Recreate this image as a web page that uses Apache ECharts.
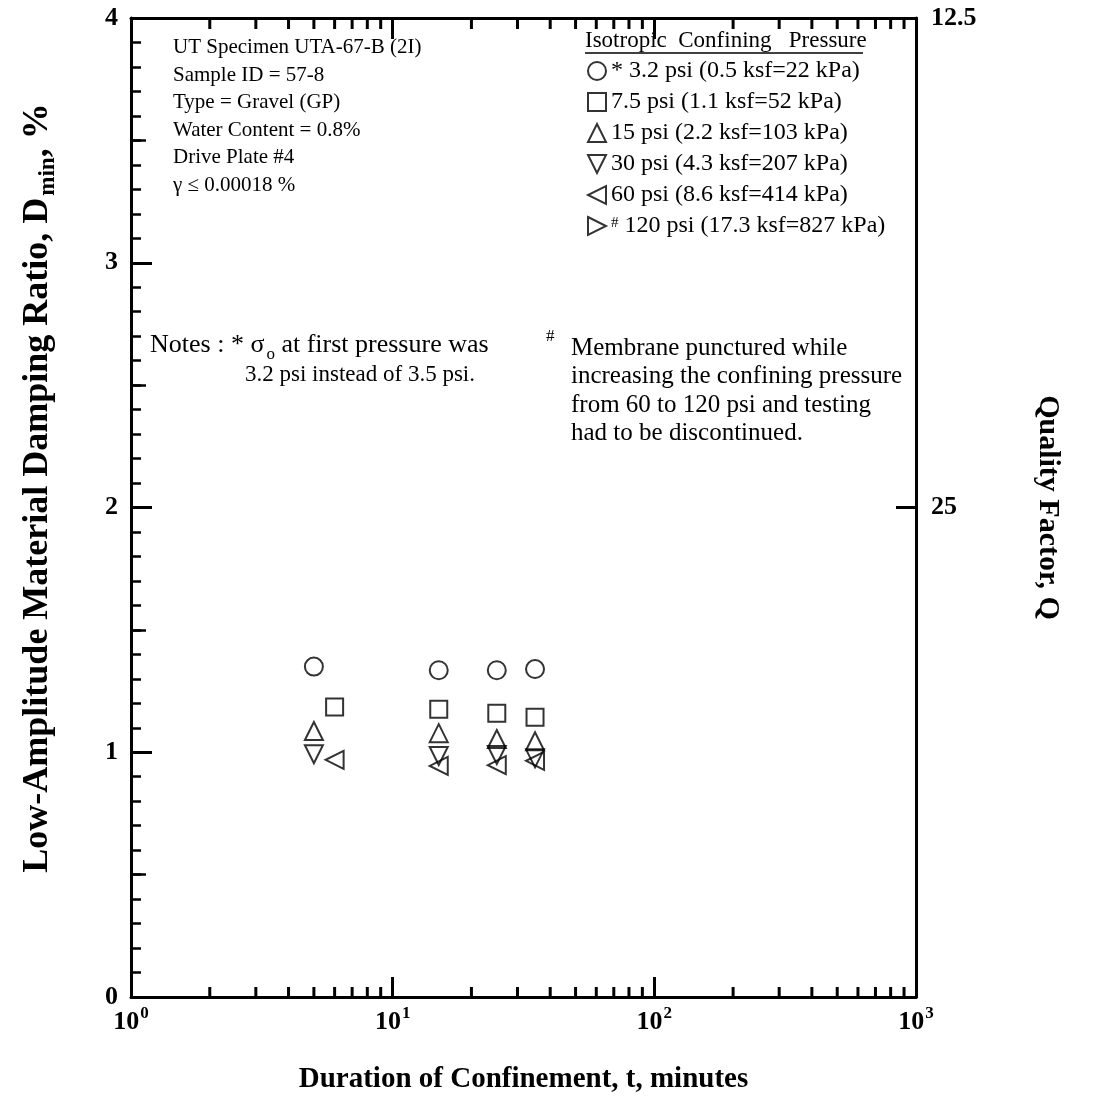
<!DOCTYPE html>
<html>
<head>
<meta charset="utf-8">
<script src="https://cdn.jsdelivr.net/npm/echarts@6/dist/echarts.min.js"></script>
<style>
  html, body { margin: 0; padding: 0; background: #fff; }
  #chart { width: 1116px; height: 1119px; }
</style>
</head>
<body>
<div id="chart"></div>
<script>
// duration of confinement (minutes) and damping ratio (%) per confining pressure
var t_3psi = [5, 15, 25, 35];
var d_3psi = [1.35, 1.335, 1.335, 1.34];
var t_7psi = [6, 15, 25, 35];
var d_7psi = [1.185, 1.176, 1.159, 1.143];
var t_15psi = [5, 15, 25, 35];
var d_15psi = [1.087, 1.078, 1.054, 1.045];
var t_30psi = [5, 15, 25, 35];
var d_30psi = [0.992, 0.985, 0.989, 0.975];
var t_60psi = [6, 15, 25, 35];
var d_60psi = [0.969, 0.944, 0.947, 0.965];
var t_120psi = [];
var d_120psi = [];

var seriesNames = [
  '* 3.2 psi (0.5 ksf=22 kPa)',
  '7.5 psi (1.1 ksf=52 kPa)',
  '15 psi (2.2 ksf=103 kPa)',
  '30 psi (4.3 ksf=207 kPa)',
  '60 psi (8.6 ksf=414 kPa)',
  '{sup|#} 120 psi (17.3 ksf=827 kPa)'
];

// right axis: quality factor Q = 1 / (2 D)
var qTickLabels = {4: '12.5', 2: '25'};

// log minor ticks (2..9 within each decade)
var decades = [1, 10, 100];
var minorMult = [2, 3, 4, 5, 6, 7, 8, 9];

var FONT = '"Liberation Serif", "Times New Roman", serif';

function pairs(xs, ys) {
  var out = [];
  for (var i = 0; i < xs.length; i++) {
    out.push([xs[i], ys[i]]);
  }
  return out;
}

var minorTicks = [];
for (var i = 0; i < decades.length; i++) {
  for (var j = 0; j < minorMult.length; j++) {
    minorTicks.push([decades[i] * minorMult[j], 0]);
  }
}

var hollow = {color: 'rgba(255,255,255,0)', borderColor: '#000', borderWidth: 2};
var symbols = [
  'circle',
  'rect',
  'triangle',
  'path://M0,0 L10,0 L5,10 Z',
  'path://M10,0 L10,10 L0,5 Z',
  'path://M0,0 L10,5 L0,10 Z'
];
var dataSets = [
  pairs(t_3psi, d_3psi),
  pairs(t_7psi, d_7psi),
  pairs(t_15psi, d_15psi),
  pairs(t_30psi, d_30psi),
  pairs(t_60psi, d_60psi),
  pairs(t_120psi, d_120psi)
];

var seriesData = [];
for (var k = 0; k < seriesNames.length; k++) {
  seriesData.push({
    name: seriesNames[k],
    type: 'scatter',
    xAxisIndex: 0,
    yAxisIndex: 0,
    symbol: symbols[k],
    symbolSize: k == 1 ? 17 : 18,
    itemStyle: hollow,
    data: dataSets[k]
  });
}

// minor ticks of the log axes, drawn through the axis scale
seriesData.push({
  type: 'custom',
  xAxisIndex: 0,
  yAxisIndex: 0,
  silent: true,
  encode: {x: 0, y: 1},
  data: minorTicks,
  renderItem: function(params, api) {
    var v = api.value(0);
    var b = api.coord([v, 0]);
    var t = api.coord([v, 4]);
    return {
      type: 'group',
      children: [
        {type: 'line', shape: {x1: b[0], y1: b[1], x2: b[0], y2: b[1] - 10}, style: {stroke: '#000', lineWidth: 3}},
        {type: 'line', shape: {x1: t[0], y1: t[1], x2: t[0], y2: t[1] + 11}, style: {stroke: '#000', lineWidth: 3}}
      ]
    };
  }
});

var lineStyle = {color: '#000', width: 3};
var tickLabel = {fontFamily: FONT, fontWeight: 'bold', fontSize: 26, color: '#000'};

var myChart = echarts.init(document.getElementById('chart'));
var option = {
  backgroundColor: '#fff',
  animation: false,
  grid: {
    left: 131, right: 200, top: 18, bottom: 122,
    containLabel: false,
    outerBoundsMode: 'none'
  },
  legend: {
    orient: 'vertical',
    left: 587,
    top: 59,
    padding: 0,
    itemWidth: 18,
    itemHeight: 18,
    itemGap: 7,
    selectedMode: false,
    data: seriesNames,
    textStyle: {
      fontFamily: FONT, fontSize: 24, color: '#000', lineHeight: 21,
      rich: {
        sup: {fontFamily: FONT, fontSize: 15, verticalAlign: 'top', lineHeight: 15}
      }
    }
  },
  xAxis: [{
    type: 'log',
    min: 1,
    max: 1000,
    logBase: 10,
    position: 'bottom',
    name: 'Duration of Confinement, t, minutes',
    nameLocation: 'middle',
    nameGap: 68,
    nameTextStyle: {fontFamily: FONT, fontWeight: 'bold', fontSize: 29, color: '#000'},
    axisLine: {show: true, onZero: false, lineStyle: lineStyle},
    axisTick: {show: true, inside: true, length: 20, lineStyle: lineStyle},
    splitLine: {show: false},
    axisLabel: {
      margin: 8,
      formatter: function(v) {
        var e = Math.round(Math.log(v) / Math.LN10);
        return '{b|10}{s|' + e + '}';
      },
      rich: {
        b: {fontFamily: FONT, fontWeight: 'bold', fontSize: 26, color: '#000', verticalAlign: 'bottom', lineHeight: 30},
        s: {fontFamily: FONT, fontWeight: 'bold', fontSize: 17, color: '#000', verticalAlign: 'top', lineHeight: 17, padding: [0, 0, 0, 1]}
      }
    }
  }, {
    type: 'log',
    min: 1,
    max: 1000,
    logBase: 10,
    position: 'top',
    axisLine: {show: true, onZero: false, lineStyle: lineStyle},
    axisTick: {show: true, inside: true, length: 21, lineStyle: lineStyle},
    splitLine: {show: false},
    axisLabel: {show: false}
  }],
  yAxis: [{
    type: 'value',
    min: 0,
    max: 4,
    interval: 1,
    position: 'left',
    axisLine: {show: true, onZero: false, lineStyle: lineStyle},
    axisTick: {show: true, inside: true, length: 21, lineStyle: lineStyle},
    minorTick: {show: true, splitNumber: 10, length: 10, lineStyle: {color: '#000', width: 2.5}},
    splitLine: {show: false},
    minorSplitLine: {show: false},
    axisLabel: Object.assign({margin: 13}, tickLabel)
  }, {
    type: 'value',
    min: 0,
    max: 4,
    interval: 2,
    position: 'right',
    name: 'Quality Factor, Q',
    nameLocation: 'middle',
    nameRotate: -90,
    nameGap: 117,
    nameTextStyle: {fontFamily: FONT, fontWeight: 'bold', fontSize: 30, color: '#000'},
    axisLine: {show: true, onZero: false, lineStyle: lineStyle},
    axisTick: {show: true, inside: true, length: 20, lineStyle: lineStyle},
    splitLine: {show: false},
    axisLabel: Object.assign({
      margin: 15,
      formatter: function(v) { return qTickLabels[v] || ''; }
    }, tickLabel)
  }, {
    type: 'value',
    min: 0,
    max: 4,
    interval: 0.5,
    position: 'left',
    offset: 0,
    axisLine: {show: false},
    axisTick: {show: true, inside: true, length: 15, lineStyle: {color: '#000', width: 2.5}},
    splitLine: {show: false},
    axisLabel: {show: false}
  }],
  graphic: [{
    // left axis title
    type: 'text',
    x: 39,
    y: 488,
    rotation: Math.PI / 2,
    style: {
      text: '{t|Low-Amplitude Material Damping Ratio, D}{s|min}{t|, %}',
      align: 'center',
      verticalAlign: 'middle',
      rich: {
        t: {font: 'bold 36px ' + FONT, fill: '#000', verticalAlign: 'top', lineHeight: 38},
        s: {font: 'bold 23px ' + FONT, fill: '#000', verticalAlign: 'top', lineHeight: 24, padding: [17, 0, 0, 2]}
      }
    }
  }, {
    type: 'text',
    left: 173,
    top: 34,
    style: {
      text: 'UT Specimen UTA-67-B (2I)\nSample ID = 57-8\nType = Gravel (GP)\nWater Content = 0.8%\nDrive Plate #4\n\u03b3 \u2264 0.00018 %',
      font: '21px ' + FONT,
      lineHeight: 27.5,
      fill: '#000'
    }
  }, {
    type: 'text',
    left: 585,
    top: 29,
    style: {
      text: 'Isotropic  Confining   Pressure',
      font: '23px ' + FONT,
      fill: '#000'
    }
  }, {
    type: 'line',
    shape: {x1: 585, y1: 53, x2: 863, y2: 53},
    style: {stroke: '#000', lineWidth: 1.5}
  }, {
    type: 'text',
    left: 150,
    top: 329,
    style: {
      text: '{n|Notes : * \u03c3}{sub|o}{n| at first pressure was}',
      rich: {
        n: {font: '26px ' + FONT, fill: '#000', verticalAlign: 'top', lineHeight: 28, padding: [3, 0, 0, 0]},
        sub: {font: '17px ' + FONT, fill: '#000', verticalAlign: 'top', lineHeight: 18, padding: [17, 0, 0, 2]}
      }
    }
  }, {
    type: 'text',
    left: 546,
    top: 328,
    style: {
      text: '#',
      font: '17px ' + FONT,
      fill: '#000'
    }
  }, {
    type: 'text',
    left: 245,
    top: 363,
    style: {
      text: '3.2 psi instead of 3.5 psi.',
      font: '23px ' + FONT,
      fill: '#000'
    }
  }, {
    type: 'text',
    left: 571,
    top: 334,
    style: {
      text: 'Membrane punctured while\nincreasing the confining pressure\nfrom 60 to 120 psi and testing\nhad to be discontinued.',
      font: '25px ' + FONT,
      lineHeight: 28.4,
      fill: '#000'
    }
  }],
  series: seriesData
};
myChart.setOption(option);
window.onresize = myChart.resize;
</script>
</body>
</html>
